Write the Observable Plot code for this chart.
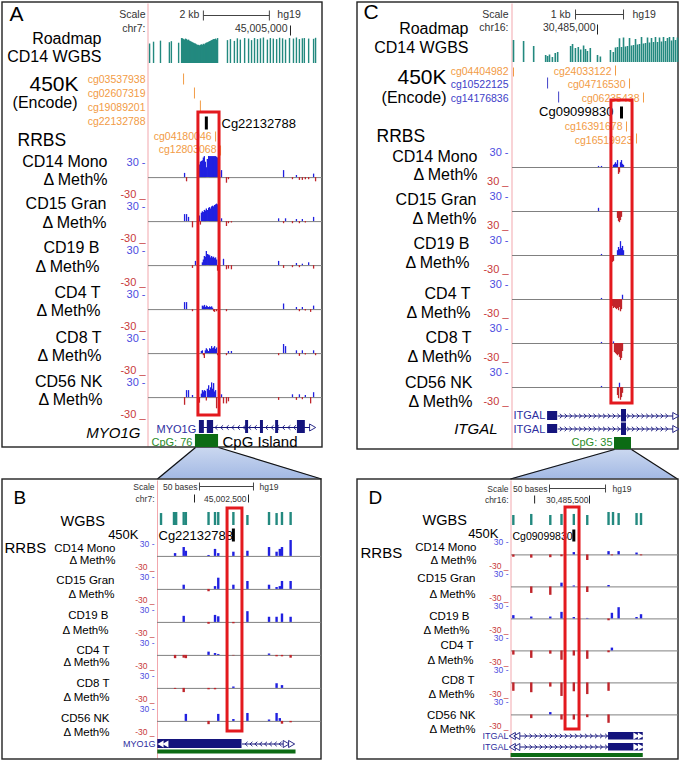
<!DOCTYPE html>
<html><head><meta charset="utf-8">
<script src="https://cdn.jsdelivr.net/npm/d3@7"></script>
<script src="https://cdn.jsdelivr.net/npm/@observablehq/plot@0.6"></script>
<style>
html,body{margin:0;padding:0;background:#fff;}
#chart{width:679px;height:761px;overflow:hidden;}
</style></head><body><div id="chart"></div>
<script>
// ================= DATA =================
const tracks = ["CD14 Mono","CD15 Gran","CD19 B","CD4 T","CD8 T","CD56 NK"];
const deltaLabel = "Δ Meth%";

// ---- Panel A: chr7, MYO1G (positions in kb relative to chr7:45,005,000)
const A_scale_kb = [-2.64, -0.64];
const A_wgbs_kb = [-4.27,-4.15,-3.94,-3.67,-3.61,-3.39,
 -3.30,-3.27,-3.24,-3.21,-3.18,-3.15,-3.12,-3.09,-3.06,-3.03,-3.00,-2.97,-2.94,-2.91,-2.88,-2.85,-2.82,-2.79,-2.76,-2.73,-2.70,-2.67,-2.64,-2.61,-2.58,-2.55,-2.52,-2.48,-2.45,-2.42,-2.39,-2.36,-2.33,-2.30,-2.27,-2.24,-2.21,
 -1.91,-1.82,-1.70,-1.61,-1.52,-1.39,-1.27,-1.18,-1.09,-1.00,-0.91,-0.82,-0.70,-0.61,-0.52,-0.42,-0.33,-0.24,-0.15,-0.03,0.09,0.18,0.27,0.36,0.42,0.55,0.70,0.76];
const A_wgbs_pct = [75,82,86,80,84,78,
 96,95,92,90,94,92,88,90,86,84,82,80,78,76,75,72,70,70,68,70,72,70,74,72,76,78,80,82,84,86,88,90,92,92,94,90,96,
 88,92,85,95,90,96,94,88,96,92,95,98,90,96,94,92,97,95,90,96,94,98,92,95,96,94,93,97];
const A_probe_kb = [-3.24,-2.91,-2.73,-2.55,-2.27,-2.12];
const A_probe_id = ["cg03537938","cg02607319","cg19089201","cg22132788","cg04180046","cg12803068"];
const A_rrbs_kb = [-3.21,-3.15,-3.09,-2.97,-2.88,-2.76,-2.73,-2.70,-2.67,-2.64,-2.61,-2.58,-2.55,-2.52,-2.48,-2.45,-2.42,-2.39,-2.36,-2.33,-2.30,-2.27,-2.24,-2.21,-2.15,-2.09,-2.03,-1.94,-1.88,-1.79,-0.36,-0.30,-0.21,-0.15,0.06,0.18,0.27,0.36,0.45,0.55,0.61,0.70,0.76];
const A_CD14 = [6,-6,0,0,0, 18,22,23,24,28,30,22,14,26,30,30,30,30,30,30,30,30,29,28, 8,10,0,-8,-3,0, 0,0,10,0,-3,3,-4,-4,-3,-3,0,5,-6];
const A_CD15 = [10,10,6,-9,0, 8,-5,12,14,13,16,15,18,16,19,20,18,21,22,21,23,24,25,24, 0,4,0,-7,-3,-2, 4,0,-3,4,-3,3,-3,3,-2,0,0,6,0];
const A_CD19 = [0,0,0,-4,6, 0,0,0,4,8,13,12,20,16,15,14,11,13,11,12,10,11,8,-8, 0,0,9,-6,-5,-6, 6,0,-4,0,-3,3,-3,2,0,4,0,-5,0];
const A_CD4  = [10,10,0,-3,0, 0,0,0,5,4,6,3,5,4,3,4,3,4,2,-3,-4,0,-3,0, 0,0,0,-3,0,0, 0,0,8,0,0,3,-3,3,-2,0,-4,5,0];
const A_CD8  = [0,0,0,0,0, 0,0,3,4,-3,-7,4,7,5,3,7,6,10,7,8,10,6,8,-3, 0,0,0,-3,3,3, -3,0,13,10,0,4,-4,4,-2,0,0,4,-3];
const A_CD56 = [-11,10,10,3,0, -8,0,5,10,8,10,9,-5,12,17,10,14,21,12,20,8,10,-16,0, 0,4,-9,-9,-6,0, -4,0,0,0,4,-4,4,-3,3,0,-9,7,0];
const A_intron_kb = [-2.76, 0.70];
const A_exons_kb = [[-2.76,-2.61],[-2.52,-2.33],[-1.36,-1.27],[-0.91,-0.82],[-0.45,-0.36],[0.21,0.45]];
const A_cpg_kb = [-2.88,-2.18];
const A_focus_kb = [-2.79,-2.15];

// ---- Panel C: chr16, ITGAL (positions in kb relative to chr16:30,485,000)
const C_scale_kb = [-0.458, 0.542];
const C_wgbs_kb = [-1.75,-1.54,-1.33,-1.08,-1.04,-1.00,-0.94,-0.88,-0.83,-0.56,-0.52,-0.46,-0.40,-0.35,-0.29,-0.25,-0.21,-0.15,0.00,0.06,0.27,0.33,
 0.375,0.417,0.458,0.50,0.542,0.583,0.625,0.667,0.708,0.75,0.792,0.833,0.875,0.917,0.958,1.0,1.042,1.083,1.125,1.167,1.208,1.25,1.292,1.333,1.375,1.417,1.458,1.5,1.542,1.583,1.625,1.667];
const C_wgbs_pct = [88,84,64,28,24,30,20,36,40,64,72,56,60,50,66,52,44,56,28,22,48,40,
 58,60,95,60,98,62,64,96,66,68,92,70,72,100,74,76,98,78,96,80,100,80,98,82,100,84,96,100,86,100,88,98];
const C_probe_kb = [-1.75,-1.04,-0.81,0.375,0.667,0.958,0.5,0.604,0.813];
const C_probe_id = ["cg04404982","cg10522125","cg14176836","cg24033122","cg04716530","cg06235438","Cg09099830","cg16391678","cg16519923"];
const C_rrbs_kb = [0.021,0.083,0.125,0.313,0.333,0.354,0.375,0.396,0.417,0.438,0.458,0.479,0.5,0.521,0.542];
const C_CD14 = [2,2,0,0,4,6,9,6,13,-13,-10,9,13,6,4];
const C_CD15 = [6,0,0,0,0,0,0,0,-13,-19,-21,-17,-11,0,0];
const C_CD19 = [0,2,0,-13,-11,0,0,0,9,15,11,26,13,17,9];
const C_CD4  = [0,2,0,-13,-17,-15,-17,-19,-17,-21,-15,-23,-19,8,0];
const C_CD8  = [0,2,0,0,3,-17,-19,-21,-23,-21,-26,-32,-28,-15,0];
const C_CD56 = [0,2,0,0,0,0,0,0,-15,-21,8,-24,-19,-11,0];
const C_utr_kb = [-1.04,-0.83];
const C_exon_kb = [0.5,0.604];
const C_intron_kb = [-0.83,1.58];
const C_cpg_kb = [0.354,0.708];
const C_focus_kb = [0.29,0.73];

// ---- Panel B: chr7 zoom (positions in bp relative to chr7:45,002,500)
const B_scale_bp = [-45.4, 4.6];
const B_marks_bp = [-50, 0];
const B_wgbs_bp = [-81,-69,-67,-60,-58,-37,-31,-28,-14,-1,19,26,31,39];
const B_wgbs_pct = [92,100,100,100,100,100,100,100,100,77,100,92,100,100];
const B_probe_bp = -14;
const B_rrbs_bp = [-68,-60,-58,-37,-31,-28,-14,-1,19,26,29,31,39];
const B_CD14 = [6,19,11,2,15,6,9,11,19,9,15,19,34];
const B_CD15 = [0,9,0,-5,6,24,9,17,9,4,6,17,17];
const B_CD19 = [0,13,0,-4,15,12,-3,23,11,11,0,18,11];
const B_CD4  = [-7,-6,-7,7,4,2,-1,0,3,-3,0,-3,-6];
const B_CD8  = [-2,-9,0,-3,-3,0,3,0,0,10,0,6,0];
const B_CD56 = [0,0,15,-7,0,15,4,17,3,17,6,-6,-3];
const B_exon_bp = [-84,-6];
const B_intron_bp = [-6,35];
const B_cpg_bp = [-84,44];
const B_focus_bp = [-19.4,-5.6];

// ---- Panel D: chr16 zoom (positions in bp relative to chr16:30,485,500)
const D_scale_bp = [-35.7, 14.3];
const D_marks_bp = [-49, 0];
const D_wgbs_bp = [-68,-52,-35,-25,-14,-2,17,21,26,42,46];
const D_wgbs_pct = [77,85,77,85,85,77,100,100,92,92,92];
const D_probe_bp = -14;
const D_rrbs_bp = [-68,-52,-35,-25,-14,-2,17,20,26,42,46];
const D_CD14 = [-5,-7,-6,-4,5,-12,7,-2,7,4,-2];
const D_CD15 = [0,-14,-18,8,2,-12,3,0,0,0,0];
const D_CD19 = [7,4,4,14,3,1,-4,12,24,3,9];
const D_CD4  = [-9,-16,-7,-20,-11,-18,-4,6,0,0,0];
const D_CD8  = [-18,-21,-9,-29,-19,-25,-18,0,0,0,0];
const D_CD56 = [0,-8,5,-11,-11,-6,-18,0,0,0,0];
const D_exon_bp = [17,48];
const D_intron_bp = [-62,17];
const D_cpg_bp = [-70,48];
const D_focus_bp = [-21.4,-8.9];

// ================= STYLE / LAYOUT =================
const W = 679, H = 761;
const FONT = '"Liberation Sans", Arial, Helvetica, sans-serif';
const COL = {orange:"#f29b45", cgBlue:"#4040c8", teal:"#23897f", navy:"#14147c", geneTxt:"#2e2ea0",
  green:"#0c6b14", greenTxt:"#2a8c2a", box:"#e3191e", up:"#2020e0", down:"#c0252b",
  upLab:"#4c4ce0", downLab:"#c83a3a", scale:"#333", zero:"#808080", pink:"#f2a7ad"};

const L = {
  A:{domain:[-4.303,0.970], range:[148,322], wb:63, wt:37, ww:1.4, top:153.9, step:44.2, ymax:31.57, bw:1.3, labFs:11, dyTop:9, dyBot:-1, dx:-3,
     neg:["-30 _","-30 _","-30 _","-30 _","-30 _","-30 _"]},
  C:{domain:[-1.771,1.6875], range:[512,678], wb:62, wt:37, ww:1.6, top:145, step:44, ymax:41.25, bw:1.3, labFs:11, dyTop:4, dyBot:1, dx:-4,
     neg:["30 _","30 _","-30 _","-30 _","-30 _","-30 _"]},
  B:{domain:[-84.26,67.59], range:[157,321], wb:525, wt:512, ww:2.4, top:536.1, step:33.8, ymax:36.2, bw:2.4, labFs:8.5, dyTop:4.5, dyBot:0, dx:-3,
     neg:["-30 _","-30 _","-30 _","-30 _","-30 _","-30 _"]},
  D:{domain:[-69.64,79.46], range:[511,678], wb:525, wt:512, ww:2.4, top:535.6, step:32.8, ymax:35.1, bw:2.4, labFs:8.5, dyTop:4.5, dyBot:0, dx:-3,
     neg:["-30 _","-30 _","-30 _","-30 _","-30 _","-30 _"]}
};
L.A.wpos=A_wgbs_kb; L.A.wval=A_wgbs_pct; L.A.rpos=A_rrbs_kb; L.A.rvals=[A_CD14,A_CD15,A_CD19,A_CD4,A_CD8,A_CD56];
L.C.wpos=C_wgbs_kb; L.C.wval=C_wgbs_pct; L.C.rpos=C_rrbs_kb; L.C.rvals=[C_CD14,C_CD15,C_CD19,C_CD4,C_CD8,C_CD56];
L.B.wpos=B_wgbs_bp; L.B.wval=B_wgbs_pct; L.B.rpos=B_rrbs_bp; L.B.rvals=[B_CD14,B_CD15,B_CD19,B_CD4,B_CD8,B_CD56];
L.D.wpos=D_wgbs_bp; L.D.wval=D_wgbs_pct; L.D.rpos=D_rrbs_bp; L.D.rvals=[D_CD14,D_CD15,D_CD19,D_CD4,D_CD8,D_CD56];

const trackLab = {
  A:{s:16, rows:[[107,166,184],[106,208,227],[99,252,271],[100,297,315],[101,342,360],[102,386,404]]},
  C:{s:16, rows:[[477,161,179],[476,204,223],[469,248,267],[470,298,317],[471,342,361],[472,387,406]]},
  B:{s:11.5, rows:[[115,551,563],[114,583,597],[108,618,633],[109,653,665],[109,686,700],[109,721,735]]},
  D:{s:11.5, rows:[[476,550,563],[475,581,597],[469,619,633],[473,648,663],[474,683,697],[475,718,732]]}
};

// ================= HELPERS =================
const chart = document.getElementById("chart");
const base = {width:W, height:H, marginTop:0, marginRight:0, marginBottom:0, marginLeft:0};
let page = null;
function layer(svg) {            // nest every layer inside the single page SVG
  svg.removeAttribute("style");
  svg.setAttribute("x", 0); svg.setAttribute("y", 0);
  svg.setAttribute("width", W); svg.setAttribute("height", H);
  svg.style.overflow = "visible";
  page.appendChild(svg);
}

function textMarks(items) {
  const groups = d3.groups(items, d => `${d.a||"start"}|${d.dx||0}|${d.i?1:0}`);
  return groups.map(([key, arr]) => {
    const [a, dx, it] = key.split("|");
    return Plot.text(arr, {x:"x", y:"y", text:"t", fontSize:d => d.s, fill:d => d.c || "#000",
      textAnchor:a, dx:+dx, lineAnchor:"bottom", fontStyle: it === "1" ? "italic" : "normal", fontFamily:FONT});
  });
}
const chevLeft = {draw(ctx, size) { const s = Math.sqrt(size); ctx.moveTo(s*0.3, -s*0.55); ctx.lineTo(-s*0.3, 0); ctx.lineTo(s*0.3, s*0.55); }};
const chevRight = {draw(ctx, size) { const s = Math.sqrt(size); ctx.moveTo(-s*0.3, -s*0.55); ctx.lineTo(s*0.3, 0); ctx.lineTo(-s*0.3, s*0.55); }};
const chevMark = (pts, dir) => Plot.dot(pts, {x:"x", y:"y", r:2.3, symbol: dir < 0 ? chevLeft : chevRight, fill:"none", stroke:COL.navy, strokeWidth:0.9});
const triMark = (pts, dir, fill, inside) => Plot.dot(pts, {x:"x", y:"y", r:2.6, symbol:"triangle", rotate: dir < 0 ? -90 : 90, fill, stroke: inside ? "none" : COL.navy, strokeWidth:0.9});

const linkMark = links => Plot.link(links, {x1:"x1", y1:"y1", x2:"x2", y2:"y2", stroke:d => d.c, strokeWidth:d => d.w || 1});
const rectMark = rects => Plot.rect(rects, {x1:"x1", x2:"x2", y1:"y1", y2:"y2", fill:d => d.c});
const boxMark = b => Plot.rect([b], {x1:"x1", x2:"x2", y1:"y1", y2:"y2", fill:"none", stroke:COL.box, strokeWidth:3});

function wgbsPlot(P) {
  const rows = P.wpos.map((p, i) => ({p, v:P.wval[i]}));
  return Plot.plot({...base, x:{domain:P.domain, range:P.range, axis:null},
    y:{domain:[0,100], range:[P.wb, P.wt], axis:null},
    marks:[Plot.ruleX(rows, {x:"p", y1:0, y2:"v", stroke:COL.teal, strokeWidth:P.ww})]});
}
function rrbsPlot(P) {
  const rows = [];
  P.rvals.forEach((arr, i) => arr.forEach((v, j) => { if (v !== 0) rows.push({track:tracks[i], pos:P.rpos[j], v}); }));
  const labs = tracks.map((t, i) => ({track:t, top:"30 -", bot:P.neg[i]}));
  return Plot.plot({...base,
    x:{domain:P.domain, range:P.range, axis:null},
    y:{domain:[-P.ymax, P.ymax], range:[P.step, 0], axis:null},
    fy:{domain:tracks, range:[P.top, P.top + 6*P.step], padding:0, axis:null},
    color:{type:"identity"},
    marks:[
      Plot.ruleY([0], {x1:() => P.domain[0], x2:() => P.domain[1], stroke:COL.zero, strokeWidth:1}),
      Plot.ruleX(rows, {x:"pos", y1:0, y2:"v", fy:"track", stroke:d => d.v > 0 ? COL.up : COL.down, strokeWidth:P.bw}),
      Plot.text(labs, {x:() => P.domain[0], y:() => 30, fy:"track", text:"top", textAnchor:"end", lineAnchor:"bottom",
        dx:P.dx, dy:P.dyTop, fontSize:P.labFs, fill:COL.upLab, fontFamily:FONT}),
      Plot.text(labs, {x:() => P.domain[0], y:() => -30, fy:"track", text:"bot", textAnchor:"end", lineAnchor:"bottom",
        dx:P.dx, dy:P.dyBot, fontSize:P.labFs, fill:COL.downLab, fontFamily:FONT})
    ]});
}
function annotPlot(P, links, rects, texts, box, glyphs) {
  return Plot.plot({...base, x:{domain:P.domain, range:P.range, axis:null}, y:{type:"identity"}, color:{type:"identity"},
    marks:[linkMark(links), ...textMarks(texts), ...glyphs.under, rectMark(rects), ...glyphs.over, boxMark(box)]});
}

// ================= PAGE (frames, labels, zoom connectors) =================
const frames = [{x1:2,x2:322,y1:2,y2:447},{x1:357,x2:678,y1:2,y2:449},{x1:2,x2:321,y1:479,y2:759},{x1:357,x2:678,y1:479,y2:759}];
const pinkLines = [{x1:147.5,x2:147.5,y1:3,y2:446},{x1:511.5,x2:511.5,y1:3,y2:448},{x1:157,x2:157,y1:480,y2:758},{x1:510.5,x2:510.5,y1:480,y2:758}];
const zoomAreas = [{id:"AB",y:447,x1:195,x2:218},{id:"AB",y:478.5,x1:157,x2:321},{id:"CD",y:449,x1:614,x2:631},{id:"CD",y:478.5,x1:510,x2:677}];
const zoomEdges = [{x1:195,y1:447,x2:157,y2:478.5},{x1:218,y1:447,x2:321,y2:478.5},{x1:614,y1:449,x2:510,y2:478.5},{x1:631,y1:449,x2:677,y2:478.5}];

const pageText = [
  // A
  {x:9,y:20,t:"A",s:21},
  {x:145,y:17,t:"Scale",s:10.5,c:COL.scale,a:"end"},
  {x:145,y:31,t:"chr7:",s:10.5,c:COL.scale,a:"end"},
  {x:101,y:43,t:"Roadmap",s:16,a:"end"},
  {x:101,y:61,t:"CD14 WGBS",s:16,a:"end"},
  {x:78,y:90,t:"450K",s:21,a:"end"},
  {x:77,y:107,t:"(Encode)",s:16,a:"end"},
  ...A_probe_id.slice(0,4).map((t,i) => ({x:145,y:[82,96,110,124][i],t,s:10.5,c:COL.orange,a:"end"})),
  {x:221,y:127,t:"Cg22132788",s:13},
  {x:17,y:145,t:"RRBS",s:17.5},
  {x:140,y:437,t:"MYO1G",s:15,a:"end",i:1},
  {x:156,y:432,t:"MYO1G",s:11,c:COL.geneTxt},
  {x:151,y:445,t:"CpG: 76",s:11,c:COL.greenTxt},
  {x:222,y:446,t:"CpG Island",s:15},
  // C
  {x:363,y:18,t:"C",s:21},
  {x:508,y:17,t:"Scale",s:10.5,c:COL.scale,a:"end"},
  {x:508,y:30,t:"chr16:",s:10.5,c:COL.scale,a:"end"},
  {x:468,y:33,t:"Roadmap",s:16,a:"end"},
  {x:468,y:52,t:"CD14 WGBS",s:16,a:"end"},
  {x:446,y:83,t:"450K",s:21,a:"end"},
  {x:446,y:102,t:"(Encode)",s:16,a:"end"},
  {x:508,y:74,t:C_probe_id[0],s:10.5,c:COL.orange,a:"end"},
  {x:508,y:87,t:C_probe_id[1],s:10.5,c:COL.cgBlue,a:"end"},
  {x:508,y:101,t:C_probe_id[2],s:10.5,c:COL.cgBlue,a:"end"},
  {x:613,y:115,t:C_probe_id[6],s:13,a:"end"},
  {x:376,y:141,t:"RRBS",s:17.5},
  {x:497,y:433,t:"ITGAL",s:15,a:"end",i:1},
  {x:513,y:418,t:"ITGAL",s:11,c:COL.geneTxt},
  {x:513,y:432,t:"ITGAL",s:11,c:COL.geneTxt},
  {x:612,y:445,t:"CpG: 35",s:11,c:COL.greenTxt,a:"end"},
  // B
  {x:13,y:503,t:"B",s:19},
  {x:154,y:489,t:"Scale",s:8.5,c:COL.scale,a:"end"},
  {x:154,y:501,t:"chr7:",s:8.5,c:COL.scale,a:"end"},
  {x:60,y:525,t:"WGBS",s:14.5},
  {x:138,y:538,t:"450K",s:13,a:"end"},
  {x:158,y:539,t:"Cg22132788",s:13},
  {x:4,y:552,t:"RRBS",s:15},
  {x:155,y:746,t:"MYO1G",s:9,c:COL.geneTxt,a:"end"},
  // D
  {x:368,y:503,t:"D",s:19},
  {x:508,y:491,t:"Scale",s:8.5,c:COL.scale,a:"end"},
  {x:508,y:502,t:"chr16:",s:8.5,c:COL.scale,a:"end"},
  {x:422,y:524,t:"WGBS",s:14.5},
  {x:498,y:537,t:"450K",s:13,a:"end"},
  {x:512,y:539,t:"Cg09099830",s:10.5},
  {x:360,y:557,t:"RRBS",s:15},
  {x:508,y:738,t:"ITGAL",s:9,c:COL.geneTxt,a:"end"},
  {x:508,y:749,t:"ITGAL",s:9,c:COL.geneTxt,a:"end"}
];
for (const k of ["A","C","B","D"]) {
  const tl = trackLab[k];
  tl.rows.forEach((r, i) => {
    pageText.push({x:r[0], y:r[1], t:tracks[i], s:tl.s, a:"end"});
    pageText.push({x:r[0], y:r[2], t:deltaLabel, s:tl.s, a:"end"});
  });
}

page = Plot.plot({...base, x:{type:"identity"}, y:{type:"identity"}, color:{type:"identity"},
  marks:[
    Plot.areaX(zoomAreas, {y:"y", x1:"x1", x2:"x2", z:"id", fill:"url(#zoomGrad)"}),
    Plot.link(zoomEdges, {x1:"x1", y1:"y1", x2:"x2", y2:"y2", stroke:"#111", strokeWidth:1.2}),
    Plot.link(pinkLines, {x1:"x1", y1:"y1", x2:"x2", y2:"y2", stroke:COL.pink, strokeWidth:1}),
    Plot.rect(frames, {x1:"x1", x2:"x2", y1:"y1", y2:"y2", fill:"none", stroke:"#222", strokeWidth:1.4}),
    ...textMarks(pageText)
  ]});
page.style.background = "#fff";
page.style.maxWidth = "none";
chart.appendChild(page);
{
  const defs = d3.select(page).insert("defs", ":first-child");
  const g = defs.append("linearGradient").attr("id", "zoomGrad").attr("x1", 0).attr("y1", 0).attr("x2", 0).attr("y2", 1);
  g.append("stop").attr("offset", "0%").attr("stop-color", "#cbd8f0");
  g.append("stop").attr("offset", "100%").attr("stop-color", "#a3b9e4");
}

// ================= PANEL A =================
layer(wgbsPlot(L.A)); layer(rrbsPlot(L.A));
{
  const rows = [[73,84],[87,98],[100,111],[116,129],[131,141],[145,155]];
  const links = [
    {x1:A_scale_kb[0],x2:A_scale_kb[1],y1:15,y2:15,c:"#444"},
    {x1:A_scale_kb[0],x2:A_scale_kb[0],y1:10,y2:20,c:"#444"},
    {x1:A_scale_kb[1],x2:A_scale_kb[1],y1:10,y2:20,c:"#444"},
    {x1:0,x2:0,y1:25,y2:35,c:"#222"},
    ...A_probe_kb.map((p,i) => ({x1:p,x2:p,y1:rows[i][0],y2:rows[i][1],c:i===3?"#000":COL.orange,w:i===3?3:1})),
    {x1:A_intron_kb[0],x2:A_intron_kb[1],y1:427,y2:427,c:COL.navy,w:1}
  ];
  const texts = [
    {x:A_scale_kb[0],y:17,t:"2 kb",s:10.5,c:COL.scale,a:"end",dx:-4},
    {x:A_scale_kb[1],y:17,t:"hg19",s:10.5,c:COL.scale,dx:8},
    {x:0,y:31,t:"45,005,000",s:10.5,c:COL.scale,a:"end",dx:-3},
    {x:A_probe_kb[4],y:139,t:A_probe_id[4],s:10.5,c:COL.orange,a:"end",dx:-4},
    {x:A_probe_kb[5],y:152,t:A_probe_id[5],s:10.5,c:COL.orange,a:"end",dx:-4}
  ];
  const rects = [
    ...A_exons_kb.map(e => ({x1:e[0],x2:e[1],y1:420,y2:433,c:COL.navy})),
    {x1:A_cpg_kb[0],x2:A_cpg_kb[1],y1:434,y2:447,c:COL.green}
  ];
  const glyphs = {
    under:[chevMark(d3.range(-2.25, 0.2, 0.17).map(x => ({x, y:427})), -1)],
    over:[triMark([{x:0.64, y:427}], 1, "#fff", false)]
  };
  layer(annotPlot(L.A, links, rects, texts, {x1:A_focus_kb[0],x2:A_focus_kb[1],y1:112,y2:415}, glyphs));
}

// ================= PANEL C =================
layer(wgbsPlot(L.C)); layer(rrbsPlot(L.C));
{
  const rows = [[67,76],[77,88],[91,102],[65,75],[78,88],[92,102],[106,118],[121,131],[133,143]];
  const cols = [COL.orange,COL.cgBlue,COL.cgBlue,COL.orange,COL.orange,COL.orange,"#000",COL.orange,COL.orange];
  const links = [
    {x1:C_scale_kb[0],x2:C_scale_kb[1],y1:14,y2:14,c:"#444"},
    {x1:C_scale_kb[0],x2:C_scale_kb[0],y1:9,y2:19,c:"#444"},
    {x1:C_scale_kb[1],x2:C_scale_kb[1],y1:9,y2:19,c:"#444"},
    {x1:0,x2:0,y1:24,y2:34,c:"#222"},
    ...C_probe_kb.map((p,i) => ({x1:p,x2:p,y1:rows[i][0],y2:rows[i][1],c:cols[i],w:i===6?3:1})),
    {x1:C_intron_kb[0],x2:C_intron_kb[1],y1:415.5,y2:415.5,c:COL.navy,w:1},
    {x1:C_intron_kb[0],x2:C_intron_kb[1],y1:428.5,y2:428.5,c:COL.navy,w:1}
  ];
  const lab = [[3,74],[4,87],[5,101],[7,129],[8,143]];
  const texts = [
    {x:C_scale_kb[0],y:17,t:"1 kb",s:10.5,c:COL.scale,a:"end",dx:-5},
    {x:C_scale_kb[1],y:17,t:"hg19",s:10.5,c:COL.scale,dx:9},
    {x:0,y:30,t:"30,485,000",s:10.5,c:COL.scale,a:"end",dx:-2},
    ...lab.map(([i,y]) => ({x:C_probe_kb[i],y,t:C_probe_id[i],s:10.5,c:COL.orange,a:"end",dx:-4}))
  ];
  const rects = [
    {x1:C_utr_kb[0],x2:C_utr_kb[1],y1:411,y2:420,c:COL.navy},
    {x1:C_exon_kb[0],x2:C_exon_kb[1],y1:409,y2:421.5,c:COL.navy},
    {x1:C_utr_kb[0],x2:C_utr_kb[1],y1:424,y2:433,c:COL.navy},
    {x1:C_exon_kb[0],x2:C_exon_kb[1],y1:422.5,y2:435,c:COL.navy},
    {x1:C_cpg_kb[0],x2:C_cpg_kb[1],y1:437,y2:449,c:COL.green}
  ];
  const chev = d3.range(-0.76, 1.52, 0.1).flatMap(x => [{x, y:415.5}, {x, y:428.5}]);
  const glyphs = {
    under:[chevMark(chev, 1)],
    over:[triMark([{x:1.61, y:415.5}, {x:1.61, y:428.5}], 1, "#fff", false)]
  };
  layer(annotPlot(L.C, links, rects, texts, {x1:C_focus_kb[0],x2:C_focus_kb[1],y1:100,y2:403}, glyphs));
}

// ================= PANEL B =================
layer(wgbsPlot(L.B)); layer(rrbsPlot(L.B));
{
  const links = [
    {x1:B_scale_bp[0],x2:B_scale_bp[1],y1:486,y2:486,c:"#444"},
    {x1:B_scale_bp[0],x2:B_scale_bp[0],y1:482,y2:490,c:"#444"},
    {x1:B_scale_bp[1],x2:B_scale_bp[1],y1:482,y2:490,c:"#444"},
    ...B_marks_bp.map(p => ({x1:p,x2:p,y1:494,y2:502,c:"#222"})),
    {x1:B_probe_bp,x2:B_probe_bp,y1:528,y2:541,c:"#000",w:3},
    {x1:B_intron_bp[0],x2:B_intron_bp[1],y1:743.5,y2:743.5,c:COL.navy,w:1}
  ];
  const texts = [
    {x:B_scale_bp[0],y:489,t:"50 bases",s:8.5,c:COL.scale,a:"end",dx:-2},
    {x:B_scale_bp[1],y:489,t:"hg19",s:8.5,c:COL.scale,dx:6},
    {x:0,y:501,t:"45,002,500",s:8.5,c:COL.scale,a:"end",dx:-2}
  ];
  const rects = [
    {x1:B_exon_bp[0],x2:B_exon_bp[1],y1:739,y2:748,c:COL.navy},
    {x1:B_cpg_bp[0],x2:B_cpg_bp[1],y1:749.5,y2:753.5,c:COL.green}
  ];
  const glyphs = {
    under:[chevMark(d3.range(-2, 31, 4.5).map(x => ({x, y:743.5})), -1)],
    over:[triMark([{x:-80.5, y:743.5}, {x:-76, y:743.5}], -1, "#fff", true),
          triMark([{x:34, y:743.5}, {x:39, y:743.5}], 1, "#fff", false)]
  };
  layer(annotPlot(L.B, links, rects, texts, {x1:B_focus_bp[0],x2:B_focus_bp[1],y1:508,y2:731}, glyphs));
}

// ================= PANEL D =================
layer(wgbsPlot(L.D)); layer(rrbsPlot(L.D));
{
  const links = [
    {x1:D_scale_bp[0],x2:D_scale_bp[1],y1:488,y2:488,c:"#444"},
    {x1:D_scale_bp[0],x2:D_scale_bp[0],y1:484,y2:492,c:"#444"},
    {x1:D_scale_bp[1],x2:D_scale_bp[1],y1:484,y2:492,c:"#444"},
    ...D_marks_bp.map(p => ({x1:p,x2:p,y1:495,y2:503,c:"#222"})),
    {x1:D_probe_bp,x2:D_probe_bp,y1:529,y2:541,c:"#000",w:3},
    {x1:D_intron_bp[0],x2:D_intron_bp[1],y1:735.5,y2:735.5,c:COL.navy,w:1},
    {x1:D_intron_bp[0],x2:D_intron_bp[1],y1:746.5,y2:746.5,c:COL.navy,w:1}
  ];
  const texts = [
    {x:D_scale_bp[0],y:491,t:"50 bases",s:8.5,c:COL.scale,a:"end",dx:-2},
    {x:D_scale_bp[1],y:491,t:"hg19",s:8.5,c:COL.scale,dx:7},
    {x:0,y:502,t:"30,485,500",s:8.5,c:COL.scale,a:"end",dx:-1}
  ];
  const rects = [
    {x1:D_exon_bp[0],x2:D_exon_bp[1],y1:732,y2:739.5,c:COL.navy},
    {x1:D_exon_bp[0],x2:D_exon_bp[1],y1:743,y2:750.5,c:COL.navy},
    {x1:D_cpg_bp[0],x2:D_cpg_bp[1],y1:753,y2:757,c:COL.green}
  ];
  const chev = d3.range(-57, 16, 4.5).flatMap(x => [{x, y:735.5}, {x, y:746.5}]);
  const glyphs = {
    under:[chevMark(chev, 1),
           triMark([{x:-68, y:735.5}, {x:-64, y:735.5}, {x:-68, y:746.5}, {x:-64, y:746.5}], -1, "#fff", false)],
    over:[triMark([{x:41, y:735.5}, {x:45, y:735.5}, {x:41, y:746.5}, {x:45, y:746.5}], 1, "#fff", true)]
  };
  layer(annotPlot(L.D, links, rects, texts, {x1:D_focus_bp[0],x2:D_focus_bp[1],y1:507,y2:729}, glyphs));
}

// Move each text's translate() into plain x / y attributes (same rendering).
page.querySelectorAll("text").forEach(t => {
  const tr = t.getAttribute("transform");
  const m = tr && tr.match(/^translate\(\s*([-\d.e]+)\s*,\s*([-\d.e]+)\s*\)$/);
  if (!m) return;
  const yOff = t.getAttribute("y");
  t.removeAttribute("transform");
  t.setAttribute("x", m[1]);
  t.setAttribute("y", m[2]);
  if (yOff) t.setAttribute("dy", yOff);
});
</script></body></html>
